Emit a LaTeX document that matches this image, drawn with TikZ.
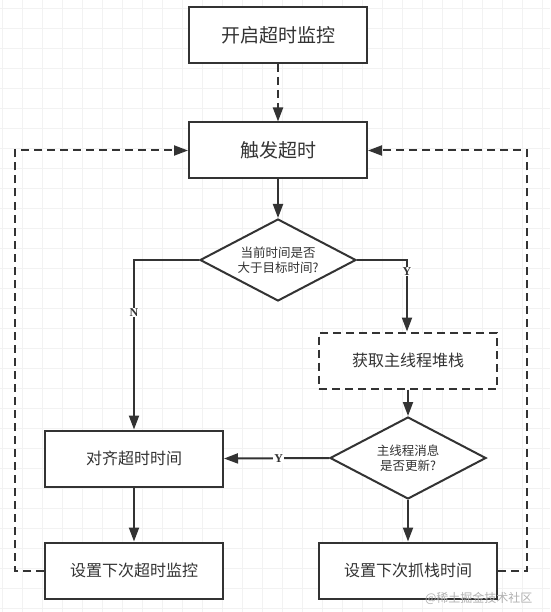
\documentclass[tikz,border=0pt]{standalone}
\usepackage{fontspec}
\setmainfont{Liberation Serif}
\newfontfamily\cjk{Noto Sans CJK SC}
\usetikzlibrary{shapes.geometric,arrows.meta}
\definecolor{ln}{HTML}{333333}
\tikzset{
  every picture/.style={x=1pt,y=-1pt},
  boxnode/.style={draw=ln,line width=2pt,minimum width=178pt,minimum height=56pt,inner sep=0pt,fill=white,font=\cjk\fontsize{16}{18}\selectfont,text=ln},
  bigbox/.style={boxnode,font=\cjk\fontsize{19}{21}\selectfont},
  dbox/.style={boxnode,dashed,dash pattern=on 8pt off 5pt},
  decision/.style={draw=ln,line width=2pt,diamond,aspect=1.9,minimum width=156pt,minimum height=82pt,inner sep=0pt,fill=white,font=\cjk\fontsize{12.5}{15}\selectfont,text=ln,align=center},
  conn/.style={draw=ln,line width=2pt,-{Triangle[length=14pt,width=10pt]}},
  dconn/.style={conn,dash pattern=on 8pt off 5pt},
  lbl/.style={fill=white,inner sep=1pt,font=\bfseries\fontsize{12}{14}\selectfont,text=ln},
}
\begin{document}
\begin{tikzpicture}
\useasboundingbox (0,0) rectangle (550,612);
\fill[white] (0,0) rectangle (550,612);
\foreach \i in {0,...,27} {\draw[black!5,line width=0.6pt] (2+20*\i,0) -- (2+20*\i,612);}
\foreach \j in {0,...,30} {\draw[black!5,line width=0.6pt] (0,8+20*\j) -- (550,8+20*\j);}

\node[bigbox] (start) at (278,35) {开启超时监控};
\node[bigbox] (trig) at (278,150.5) {触发超时};
\node[decision] (d1) at (278,260) {当前时间是否\\大于目标时间?};
\node[dbox] (stack) at (408,360.5) {获取主线程堆栈};
\node[decision] (d2) at (408,458) {主线程消息\\是否更新?};
\node[boxnode] (align) at (134,458.5) {对齐超时时间};
\node[boxnode] (setto) at (134,570.5) {设置下次超时监控};
\node[boxnode] (setst) at (408,570.5) {设置下次抓栈时间};

\coordinate (nl) at (134,260);
\coordinate (yr) at (407,260);
\coordinate (ll) at (15,570.5);
\coordinate (lu) at (15,150.5);
\coordinate (rl) at (527,570.5);
\coordinate (ru) at (527,150.5);

\draw[dconn] (start) -- (trig);
\draw[conn] (trig) -- (d1);
\draw[conn] (d1.west) -- (nl) -- node[lbl,pos=0.31]{N} (align.north);
\draw[conn] (d1.east) -- (yr) -- node[lbl,pos=0.16]{Y} (stack.north -| yr);
\draw[conn] (stack) -- (d2);
\draw[conn] (d2.west) -- node[lbl,pos=0.48]{Y} (align.east);
\draw[conn] (d2) -- (setst);
\draw[conn] (align) -- (setto);
\draw[dconn] (setto.west) -- (ll) -- (lu) -- (trig.west);
\draw[dconn] (setst.east) -- (rl) -- (ru) -- (trig.east);

\node[font=\cjk\fontsize{12}{14}\selectfont,text=black!30,anchor=east] (wm) at (536,598) {@稀土掘金技术社区};
\end{tikzpicture}
\end{document}
